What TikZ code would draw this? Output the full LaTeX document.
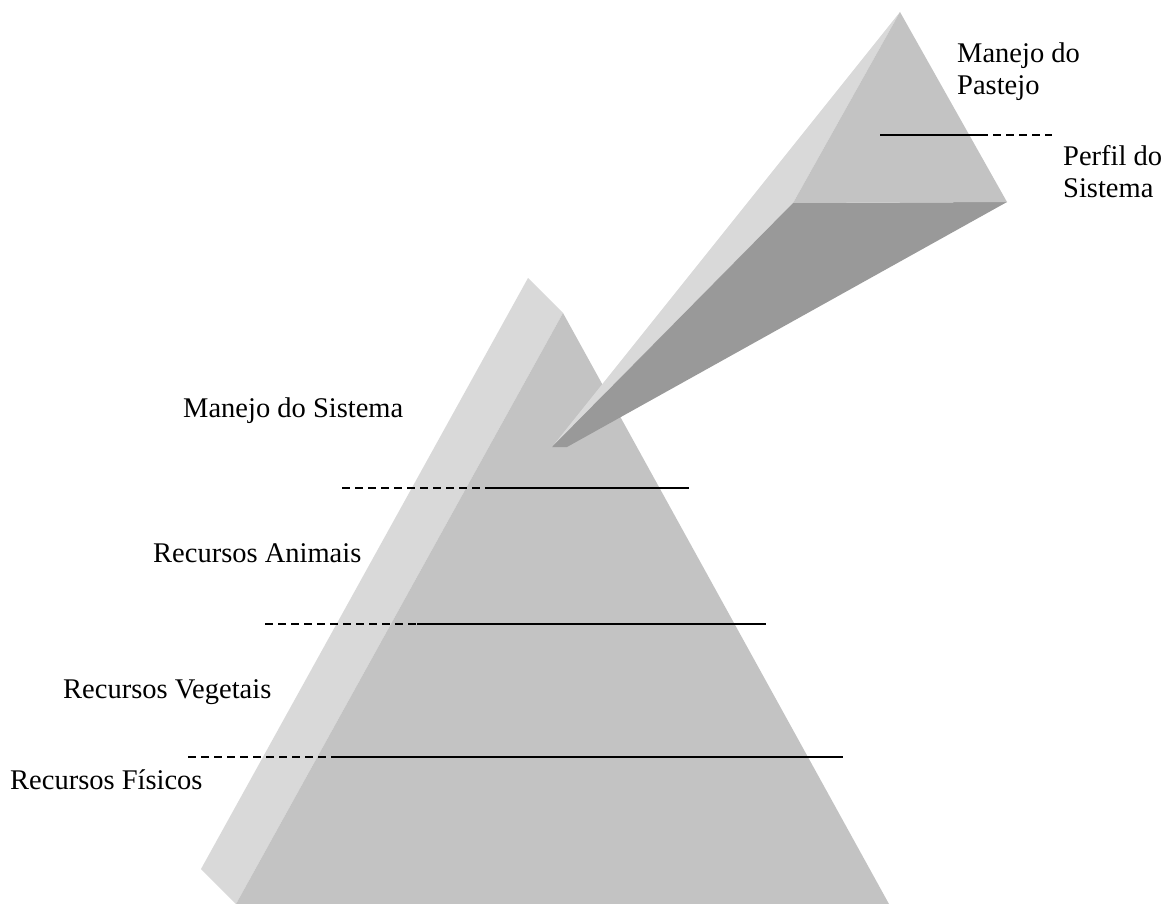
\documentclass[tikz,border=0pt]{standalone}
\usepackage{fontspec}
\setmainfont{Liberation Serif}
\begin{document}
\begin{tikzpicture}[x=1pt,y=-1pt,
  lbl/.style={font=\fontsize{28.5}{32}\selectfont, inner sep=0pt, anchor=base west, align=left},
  sep/.style={line width=2pt, black},
  sepdash/.style={sep, dash pattern=on 8pt off 5pt},
]
\definecolor{lightface}{RGB}{217,217,217}
\definecolor{frontface}{RGB}{195,195,195}
\definecolor{darkface}{RGB}{153,153,153}
\useasboundingbox (0,0) rectangle (1167,904);
% big pyramid
\coordinate (BA) at (563,313);
\coordinate (BL) at (236,904);
\coordinate (BR) at (889,904);
\coordinate (BAb) at (528,278);
\coordinate (BLb) at (201,869);
\fill[lightface] (BAb) -- (BA) -- (BL) -- (BLb) -- cycle;
\fill[frontface] (BA) -- (BR) -- (BL) -- cycle;
% small pyramid with extruded spike
\coordinate (SA) at (900,12);
\coordinate (SL) at (793,203);
\coordinate (SR) at (1007,202);
\coordinate (T1) at (552,447);
\coordinate (T2) at (567,447);
\fill[lightface] (T1) -- (SA) -- (SL) -- cycle;
\fill[darkface] (T1) -- (T2) -- (SR) -- (SL) -- cycle;
\fill[frontface] (SA) -- (SR) -- (SL) -- cycle;
% separator lines
\coordinate (l1a) at (342,488); \coordinate (l1b) at (487,488); \coordinate (l1c) at (689,488);
\draw[sepdash] (l1a) -- (l1b); \draw[sep] (l1b) -- (l1c);
\coordinate (l2a) at (265,624); \coordinate (l2b) at (417,624); \coordinate (l2c) at (766,624);
\draw[sepdash] (l2a) -- (l2b); \draw[sep] (l2b) -- (l2c);
\coordinate (l3a) at (188,757); \coordinate (l3b) at (337,757); \coordinate (l3c) at (843,757);
\draw[sepdash] (l3a) -- (l3b); \draw[sep] (l3b) -- (l3c);
\coordinate (s1a) at (880,135); \coordinate (s1b) at (980,135); \coordinate (s1c) at (1052,135);
\draw[sep] (s1a) -- (s1b); \draw[sepdash] (s1b) -- (s1c);
% labels
\node[lbl] (mp) at (957,95) {Manejo do\\Pastejo};
\node[lbl] (ps) at (1063,197) {Perfil do\\Sistema};
\node[lbl] (ms) at (183,417) {Manejo do Sistema};
\node[lbl] (ra) at (153,562) {Recursos Animais};
\node[lbl] (rv) at (63,698) {Recursos Vegetais};
\node[lbl] (rf) at (10,789) {Recursos Físicos};
\end{tikzpicture}
\end{document}
